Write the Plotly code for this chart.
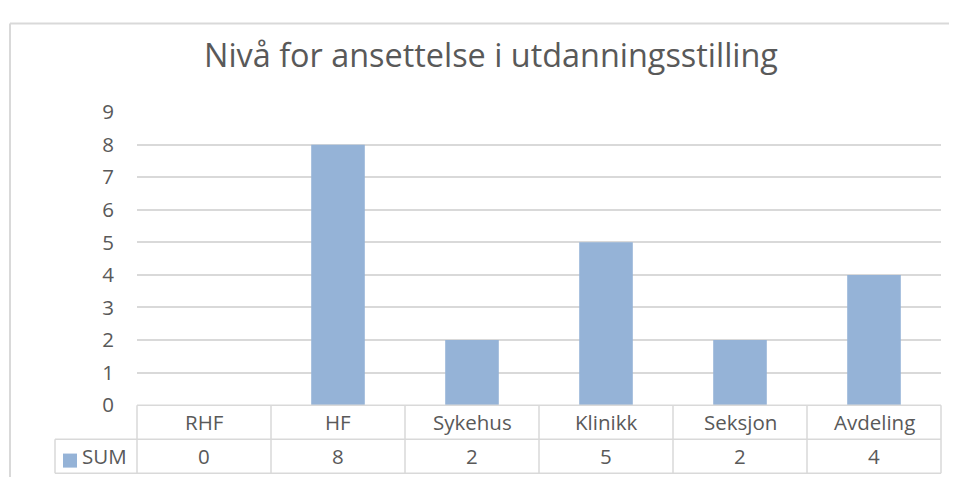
import plotly.graph_objects as go

# Data
categories = ["RHF", "HF", "Sykehus", "Klinikk", "Seksjon", "Avdeling"]
sum_values = [0, 8, 2, 5, 2, 4]
series_name = "SUM"
y_ticks = [0, 1, 2, 3, 4, 5, 6, 7, 8, 9]
title_text = "Nivå for ansettelse i utdanningsstilling"

W, H = 957, 482
XOFF = 8               # horizontal page offset seen in the photo
YSCALE, YOFF = 0.94, 22.8  # vertical mapping seen in the photo
BAR = "#95B3D7"
TXT = "#595959"
LINE = "#D9D9D9"
FONT = "Open Sans"
FS = 20.5

# plot area in pixels of the target picture (converted to paper coords)
x0_px, x1_px = 137, 941
ytop_px, y0_px = 111.7, 404.2
row_h = 34


def px(x):
    return (x - XOFF) / W


def py(y):
    return 1 - ((y - YOFF) / YSCALE) / H


fig = go.Figure()
fig.add_trace(go.Bar(x=categories, y=sum_values, name=series_name,
                     marker=dict(color=BAR, line=dict(width=0))))

n = len(categories)
xd0, xd1 = px(x0_px), px(x1_px)
col_w = (xd1 - xd0) / n

shapes = []
annotations = []

# chart frame (left + top)
top = 0.999
shapes.append(dict(type="line", xref="paper", yref="paper", x0=px(10), x1=px(10),
                   y0=0, y1=top, line=dict(color=LINE, width=2)))
shapes.append(dict(type="line", xref="paper", yref="paper", x0=px(10), x1=1,
                   y0=top, y1=top, line=dict(color=LINE, width=2)))

# data table lines
r0, r1, r2 = py(y0_px), py(y0_px + row_h), py(y0_px + 2 * row_h)
sum_left = px(55)
lk = dict(color=LINE, width=1.5)
shapes.append(dict(type="line", xref="paper", yref="paper", x0=xd0, x1=xd1, y0=r0, y1=r0, line=lk))
for y in (r1, r2):
    shapes.append(dict(type="line", xref="paper", yref="paper", x0=sum_left, x1=xd1,
                       y0=y, y1=y, line=lk))
shapes.append(dict(type="line", xref="paper", yref="paper", x0=sum_left, x1=sum_left,
                   y0=r1, y1=r2, line=lk))
for k in range(n + 1):
    xk = xd0 + k * col_w
    shapes.append(dict(type="line", xref="paper", yref="paper", x0=xk, x1=xk,
                       y0=r0, y1=r2, line=lk))

# legend key in table
shapes.append(dict(type="rect", xref="paper", yref="paper", x0=px(63), x1=px(77),
                   y0=py(466.5), y1=py(452.5), fillcolor=BAR, line=dict(width=0)))
annotations.append(dict(text=series_name, xref="paper", yref="paper", x=px(80),
                        y=(r1 + r2) / 2, xanchor="left", yanchor="middle",
                        showarrow=False, font=dict(size=FS, color=TXT, family=FONT)))

for i, (c, v) in enumerate(zip(categories, sum_values)):
    xc = xd0 + (i + 0.5) * col_w
    annotations.append(dict(text=c, xref="paper", yref="paper", x=xc, y=(r0 + r1) / 2,
                            xanchor="center", yanchor="middle", showarrow=False,
                            font=dict(size=FS, color=TXT, family=FONT)))
    annotations.append(dict(text=str(v), xref="paper", yref="paper", x=xc, y=(r1 + r2) / 2,
                            xanchor="center", yanchor="middle", showarrow=False,
                            font=dict(size=FS, color=TXT, family=FONT)))

fig.update_layout(
    width=W, height=H,
    margin=dict(l=0, r=0, t=0, b=0),
    paper_bgcolor="white", plot_bgcolor="white",
    showlegend=False,
    bargap=0.6,
    title=dict(text=title_text, x=px(491), xanchor="center", y=1 - 47.9 / H,
               yanchor="middle", font=dict(size=32.4, color=TXT, family=FONT)),
    xaxis=dict(domain=[xd0, xd1], showticklabels=False, showgrid=False,
               zeroline=False, showline=False, ticks=""),
    yaxis=dict(domain=[py(y0_px), py(ytop_px)], range=[0, 9], tickvals=y_ticks,
               showgrid=True, gridcolor=LINE, gridwidth=1.5, zeroline=False,
               showline=False, ticks="", ticklabelstandoff=22,
               tickfont=dict(size=FS, color=TXT, family=FONT)),
    shapes=shapes,
    annotations=annotations,
)

fig.write_html("out.html")
